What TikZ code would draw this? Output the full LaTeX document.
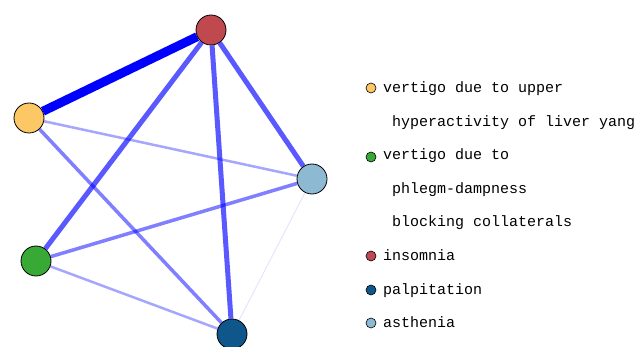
\documentclass[tikz,border=0pt]{standalone}
\usepackage{fontspec}
\setmonofont{Liberation Mono}
\definecolor{yangcol}{HTML}{FCC865}
\definecolor{phlegmcol}{HTML}{38A935}
\definecolor{insomcol}{HTML}{C0494F}
\definecolor{palpcol}{HTML}{0F578A}
\definecolor{asthcol}{HTML}{8EB9D2}
\tikzset{
  sym/.style={circle, draw, line width=0.8pt, minimum size=30pt, inner sep=0pt},
  key/.style={circle, draw, line width=0.6pt, minimum size=10pt, inner sep=0pt},
  lbl/.style={anchor=west, inner sep=0pt, font=\ttfamily\fontsize{15}{15}\selectfont, text height=9pt, text depth=3pt},
  link/.style={blue, line width=#1}
}
\begin{document}
\begin{tikzpicture}[x=1pt,y=-1pt]
        \useasboundingbox (0,0) rectangle (640,347);

        \node[sym, fill=insomcol] (insom) at (211, 30) {};
        \node[sym, fill=yangcol] (yang) at (29, 118) {};
        \node[sym, fill=asthcol] (asth) at (312, 179) {};
        \node[sym, fill=phlegmcol] (phlegm) at (36, 261) {};
        \node[sym, fill=palpcol] (palp) at (232, 334) {};

        \draw[link=9pt] (yang) -- (insom);
        \draw[link=5pt, opacity=0.65] (insom) -- (phlegm);
        \draw[link=5pt, opacity=0.65] (insom) -- (palp);
        \draw[link=5pt, opacity=0.65] (insom) -- (asth);
        \draw[link=2.5pt, opacity=0.35] (yang) -- (asth);
        \draw[link=3.5pt, opacity=0.5] (yang) -- (palp);
        \draw[link=3.5pt, opacity=0.5] (phlegm) -- (asth);
        \draw[link=2.5pt, opacity=0.35] (phlegm) -- (palp);
        \draw[link=1pt, opacity=0.1] (asth) -- (palp);

        \node[key, fill=yangcol] (k1) at (371, 88) {};
        \node[lbl] (t1) at (383, 90) {vertigo due to upper};
        \node[lbl] (t2) at (392, 124) {hyperactivity of liver yang};
        \node[key, fill=phlegmcol] (k2) at (371, 157) {};
        \node[lbl] (t3) at (383, 157) {vertigo due to};
        \node[lbl] (t4) at (392, 191) {phlegm-dampness};
        \node[lbl] (t5) at (392, 224) {blocking collaterals};
        \node[key, fill=insomcol] (k3) at (371, 256) {};
        \node[lbl] (t6) at (383, 258) {insomnia};
        \node[key, fill=palpcol] (k4) at (371, 290) {};
        \node[lbl] (t7) at (383, 292) {palpitation};
        \node[key, fill=asthcol] (k5) at (371, 323) {};
        \node[lbl] (t8) at (383, 325) {asthenia};

    \end{tikzpicture}
\end{document}
